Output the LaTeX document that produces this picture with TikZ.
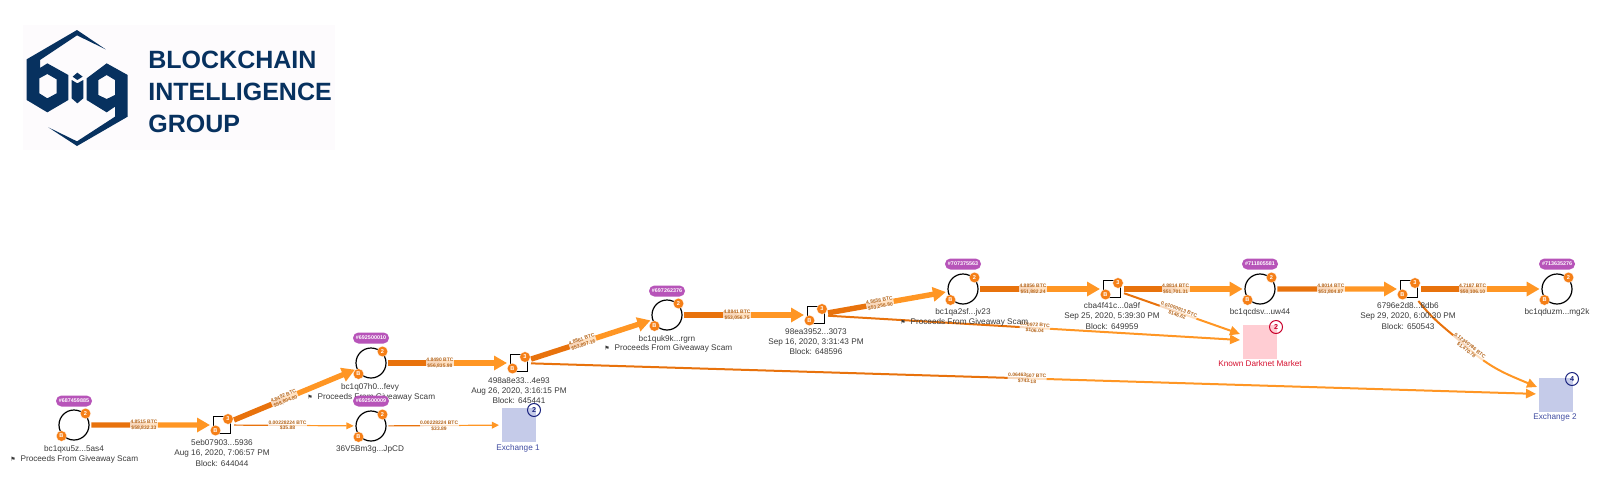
\documentclass[tikz,border=0pt]{standalone}
\usepackage{fontspec}
\setmainfont{Liberation Sans}
\newfontfamily\symbfont{DejaVu Sans}
\usetikzlibrary{arrows.meta,calc}
\pgfdeclarelayer{under}
\pgfsetlayers{under,main}
\definecolor{navy}{HTML}{07315F}
\definecolor{logobg}{HTML}{FDFBFD}
\definecolor{ordark}{HTML}{E8720C}
\definecolor{orlight}{HTML}{FF9624}
\definecolor{orbadge}{HTML}{F57F17}
\definecolor{lbltext}{HTML}{B5661C}
\definecolor{tagfill}{HTML}{B754B9}
\definecolor{maintext}{HTML}{3A3A3A}
\definecolor{exfill}{HTML}{C5CBE9}
\definecolor{exline}{HTML}{1A237E}
\definecolor{extext}{HTML}{3F4BA0}
\definecolor{dnfill}{HTML}{FFCDD3}
\definecolor{dnline}{HTML}{C9002B}
\definecolor{dntext}{HTML}{D5102F}
\tikzset{
  addr/.style={circle,draw=black,line width=.6pt,minimum size=15pt,inner sep=0pt,outer sep=1.2pt},
  txbox/.style={rectangle,draw=black,line width=.6pt,minimum size=8.4pt,inner sep=0pt,outer sep=1.8pt},
  badge/.style={circle,fill=orbadge,draw=white,line width=.15pt,minimum size=5.3pt,inner sep=0pt,text=white,font=\fontsize{2.8}{3}\selectfont\bfseries},
  tagbox/.style={rectangle,rounded corners=2.7pt,fill=tagfill,text=white,minimum width=18pt,minimum height=5.5pt,inner sep=0pt,font=\fontsize{2.7}{3}\selectfont\bfseries},
  caption/.style={text=maintext,align=center,inner sep=0pt,font=\fontsize{4.1}{5}\selectfont},
  flag/.style={text=maintext,anchor=west,inner sep=0pt,font=\fontsize{4.1}{5}\selectfont},
  lbl/.style={fill=white,fill opacity=.72,text opacity=1,text=lbltext,align=center,inner sep=.2pt,font=\fontsize{2.5}{2.9}\selectfont\bfseries},
  thickflow/.style={line width=2.7pt},
  midflow/.style={line width=1pt},
  thinflow/.style={line width=.6pt},
  headbig/.style={-{Triangle[length=6.5pt,width=7pt]}},
  headmid/.style={-{Triangle[length=5pt,width=4.6pt]}},
  headsmall/.style={-{Triangle[length=3.6pt,width=3.4pt]}},
  exbox/.style={rectangle,fill=exfill,minimum size=17pt,inner sep=0pt,outer sep=1.5pt},
  dnbox/.style={rectangle,fill=dnfill,minimum size=17pt,inner sep=0pt,outer sep=1.5pt},
  exmark/.style={circle,draw=exline,line width=.5pt,minimum size=6.5pt,inner sep=0pt,text=exline,font=\fontsize{3.6}{4}\selectfont\bfseries},
  dnmark/.style={circle,draw=dnline,line width=.5pt,minimum size=6.5pt,inner sep=0pt,text=dnline,font=\fontsize{3.6}{4}\selectfont\bfseries},
  logotext/.style={text=navy,anchor=base west,inner sep=0pt,font=\fontsize{12.5}{14}\selectfont\bfseries},
}
\newcommand{\addrnode}[3]{%
  \node[addr] (#1) at (#2,#3) {};
  \node[badge] (#1t) at ($(#1)+(11.5,-11.5)$) {2};
  \node[badge] (#1b) at ($(#1)+(-12.5,11)$) {B};
}
\newcommand{\txnode}[3]{%
  \node[txbox] (#1) at (#2,#3) {};
  \node[badge] (#1t) at ($(#1)+(6,-6)$) {3};
  \node[badge] (#1b) at ($(#1)+(-6.5,5.5)$) {B};
}
\newcommand{\scamtext}{{\symbfont\fontsize{3}{3}\selectfont\char"2691}\hspace{2.4pt}Proceeds From Giveaway Scam}
% mid name, from, to, fraction, angle, line 1, line 2, line style, head style
\newcommand{\flow}[9]{%
  \coordinate (#1) at ($(#2)!#4!(#3)$);
  \begin{pgfonlayer}{under}
  \draw[ordark,#8] (#2) -- (#1);
  \draw[orlight,#8,#9] (#1) -- (#3);
  \end{pgfonlayer}
  \node[lbl,rotate=#5] (#1t) at (#1) {#6\\#7};
}
\begin{document}
\begin{tikzpicture}[x=.5pt,y=-.5pt]
\useasboundingbox (0,0) rectangle (1600,487);
% logo
\fill[logobg] (23,25) rectangle (335,150);
\begin{scope}[x=.16667pt,y=-.16667pt]
\fill[navy,even odd rule] (317,148) -- (231,90) -- (80,178) -- (80,300) -- (142,337) -- (205,300) -- (205,225) -- (142,190) -- (120,204) -- (120,180) -- (231,106) -- cycle
 (118,235) -- (142,222) -- (170,238) -- (170,280) -- (142,295) -- (118,280) -- cycle;
\fill[navy] (215,240) -- (232,250) -- (250,240) -- (250,295) -- (232,310) -- (215,295) -- cycle;
\fill[navy] (218,230) -- (232,218) -- (248,230) -- (232,240) -- cycle;
\fill[navy,even odd rule] (260,235) -- (320,190) -- (383,225) -- (383,350) -- (231,438) -- (145,382) -- (231,424) -- (345,350) -- (345,320) -- (320,337) -- (260,300) -- cycle
 (295,240) -- (320,225) -- (345,240) -- (345,285) -- (320,297) -- (295,285) -- cycle;
\end{scope}
\node[logotext] (lg1) at (148,68) {BLOCKCHAIN};
\node[logotext] (lg2) at (148,100.5) {INTELLIGENCE};
\node[logotext] (lg3) at (148,132.5) {GROUP};
% clusters
\node[exbox] (XA) at (519,425) {};
\node[exbox] (XB) at (1556,394.5) {};
\node[dnbox] (DN) at (1260,342) {};
% endpoints
\addrnode{A}{74}{425}
\txnode{Ta}{222}{425}
\addrnode{B}{371}{363}
\addrnode{C}{371}{426}
\txnode{Tb}{519}{363}
\addrnode{D}{667}{315}
\txnode{Tc}{816}{315}
\addrnode{E}{963}{289}
\txnode{Td}{1112}{289}
\addrnode{F}{1260}{289}
\txnode{Te}{1409}{289}
\addrnode{G}{1557}{289}
\coordinate (dnin) at (1240,334);
\coordinate (dnlow) at (1240,340);
\coordinate (xbin) at (1537,387);
% connectors
\flow{m1}{A}{Ta}{.473}{0}{4.8515 BTC}{\$58,832.33}{thickflow}{headbig}
\flow{m2}{Ta}{B}{.42}{22.6}{4.8492 BTC}{\$58,804.80}{thickflow}{headbig}
\flow{m3}{Ta}{C}{.44}{0}{0.00228224 BTC}{\$35.88}{thinflow}{headsmall}
\flow{m4}{B}{Tb}{.466}{0}{4.8490 BTC}{\$56,835.98}{thickflow}{headbig}
\flow{m5}{C}{XA}{.46}{0}{0.00228224 BTC}{\$33.89}{thinflow}{headsmall}
\flow{m6}{Tb}{D}{.43}{18}{4.8861 BTC}{\$53,897.16}{thickflow}{headbig}
\flow{m7}{Tb}{XB}{.49}{-1.7}{0.06463507 BTC}{\$743.18}{midflow}{headmid}
\flow{m8}{D}{Tc}{.47}{0}{4.8841 BTC}{\$53,056.75}{thickflow}{headbig}
\flow{m9}{Tc}{E}{.435}{10}{4.8858 BTC}{\$53,258.80}{thickflow}{headbig}
\flow{m10}{Tc}{dnlow}{.516}{-3.4}{0.00972 BTC}{\$106.04}{midflow}{headmid}
\flow{m11}{E}{Td}{.47}{0}{4.8856 BTC}{\$51,882.24}{thickflow}{headbig}
\flow{m12}{Td}{F}{.43}{0}{4.8814 BTC}{\$51,701.31}{thickflow}{headbig}
\flow{m13}{Td}{dnin}{.516}{-19.4}{0.01000913 BTC}{\$146.62}{midflow}{headmid}
\flow{m14}{F}{Te}{.476}{0}{4.8014 BTC}{\$51,804.87}{thickflow}{headbig}
\flow{m15}{Te}{G}{.43}{0}{4.7187 BTC}{\$50,106.10}{thickflow}{headbig}
\coordinate (m16) at (1468,348);
\begin{pgfonlayer}{under}
\draw[ordark,midflow] (Te) to[out=-52,in=138] (m16);
\draw[orlight,midflow,headmid] (m16) to[out=-42,in=157] (xbin);
\end{pgfonlayer}
\node[lbl,rotate=-38] (m16t) at (m16) {0.12340786 BTC\\\$1,470.78};
% captions
\node[caption] (ca) at (74,449) {bc1qxu5z...5as4};
\node[flag] (fa) at (10,459) {\scamtext};
\node[caption] (cta) at (222,453) {5eb07903...5936\\[.05pt]Aug 16, 2020, 7:06:57 PM\\[.05pt]Block: 644044};
\node[caption] (cb) at (370,387) {bc1q07h0...fevy};
\node[flag] (fb) at (307,397) {\scamtext};
\node[caption] (cc) at (370,449) {36V5Bm3g...JpCD};
\node[caption] (ctb) at (519,390.5) {498a8e33...4e93\\[.05pt]Aug 26, 2020, 3:16:15 PM\\[.05pt]Block: 645441};
\node[caption] (cd) at (667,339) {bc1quk9k...rgrn};
\node[flag] (fd) at (604,348) {\scamtext};
\node[caption] (ctc) at (816,342) {98ea3952...3073\\[.05pt]Sep 16, 2020, 3:31:43 PM\\[.05pt]Block: 648596};
\node[caption] (ce) at (963,312) {bc1qa2sf...jv23};
\node[flag] (fe) at (900,322) {\scamtext};
\node[caption] (ctd) at (1112,316) {cba4f41c...0a9f\\[.05pt]Sep 25, 2020, 5:39:30 PM\\[.05pt]Block: 649959};
\node[caption] (cf) at (1260,312) {bc1qcdsv...uw44};
\node[caption] (cte) at (1408,316) {6796e2d8...8db6\\[.05pt]Sep 29, 2020, 6:00:30 PM\\[.05pt]Block: 650543};
\node[caption] (cg) at (1557,312) {bc1qduzm...mg2k};
% tags
\node[tagbox] (ga) at (74,401) {\#687459885};
\node[tagbox] (gb) at (371,338) {\#692500010};
\node[tagbox] (gc) at (371,401) {\#692500009};
\node[tagbox] (gd) at (667,291) {\#697262376};
\node[tagbox] (ge) at (963,264) {\#707375563};
\node[tagbox] (gf) at (1260,264) {\#711805581};
\node[tagbox] (gg) at (1557,264) {\#713635276};
% cluster marks
\node[exmark] (xam) at (534,410) {2};
\node[caption,text=extext] (xal) at (518,448) {Exchange 1};
\node[exmark] (xbm) at (1572,379) {4};
\node[caption,text=extext] (xbl) at (1555,417) {Exchange 2};
\node[dnmark] (dnm) at (1276,327) {2};
\node[caption,text=dntext] (dnl) at (1260,364) {Known Darknet Market};
\end{tikzpicture}
\end{document}
